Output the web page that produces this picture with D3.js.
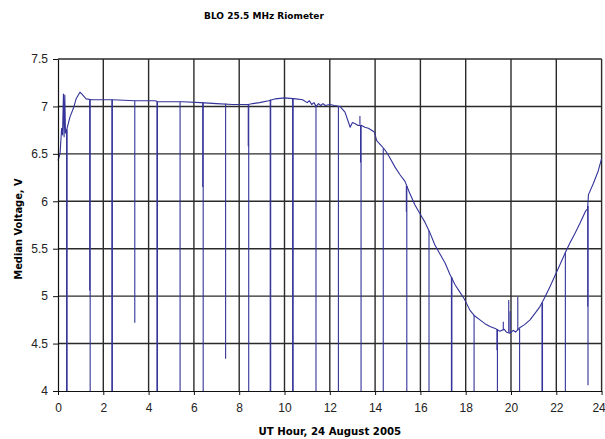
<!DOCTYPE html>
<html>
<head>
<meta charset="utf-8">
<script src="https://cdn.jsdelivr.net/npm/d3@7"></script>
<style>
  body { margin: 0; background: #fff; }
  .axis text { font-family: 'Liberation Sans', Arial, sans-serif; font-size: 12px; fill: #222; }
  .axis path, .axis line { stroke: #111; }
  .title { font-family: 'DejaVu Sans', sans-serif; font-weight: bold; fill: #000; }
</style>
</head>
<body>
<div class="chart"></div>
<script>
// base riometer curve (UT hour, median voltage)
const hours = [0, 0.09, 0.16, 0.2, 0.24, 0.27, 0.3, 0.33, 0.38, 0.53, 0.68, 0.8, 0.97, 1.06, 1.24, 1.5,
  2.4, 3.4, 4.3, 4.4, 5.5, 6.3, 7.0, 7.7, 8.4, 8.6, 8.9, 9.3, 9.6, 10.0, 10.5, 10.8,
  11.0, 11.1, 11.2, 11.3, 11.4, 11.5, 11.6, 11.7, 11.8, 12.0, 12.2, 12.45, 12.67, 12.9,
  13.0, 13.1, 13.25, 13.4, 13.55, 13.7, 13.97, 14.07, 14.3, 14.44, 14.6, 14.88, 15.1, 15.32,
  15.5, 15.76, 16.0, 16.2, 16.4, 16.64, 16.85, 17.09, 17.3, 17.53, 17.75, 17.94, 18.19, 18.4,
  18.63, 18.85, 19.07, 19.3, 19.51, 19.7, 19.8, 19.96, 20.1, 20.2, 20.4, 20.6, 20.84, 21.0,
  21.28, 21.5, 21.72, 21.95, 22.16, 22.4, 22.6, 22.8, 23.05, 23.3, 23.38, 23.42, 23.64, 23.85, 24]
const volts = [6.43, 6.50, 6.77, 6.70, 7.13, 6.68, 7.12, 6.72, 6.75, 6.89, 6.98, 7.08, 7.15, 7.13, 7.08, 7.07,
  7.07, 7.06, 7.06, 7.05, 7.05, 7.04, 7.03, 7.02, 7.02, 7.03, 7.04, 7.06, 7.08, 7.09, 7.08, 7.07,
  7.04, 7.06, 7.02, 7.04, 7.00, 7.03, 7.01, 7.03, 7.01, 7.02, 7.01, 7.00, 6.94, 6.78,
  6.83, 6.82, 6.80, 6.80, 6.78, 6.77, 6.73, 6.64, 6.58, 6.54, 6.48, 6.36, 6.28, 6.21,
  6.10, 5.96, 5.86, 5.78, 5.68, 5.54, 5.45, 5.35, 5.23, 5.12, 5.04, 4.97, 4.85, 4.79,
  4.75, 4.71, 4.68, 4.66, 4.63, 4.65, 4.62, 4.61, 4.64, 4.62, 4.67, 4.70, 4.75, 4.80,
  4.89, 4.99, 5.10, 5.22, 5.33, 5.46, 5.56, 5.65, 5.77, 5.90, 5.92, 6.07, 6.19, 6.32, 6.45]

// short spikes: hour, level at the curve, level reached
const spikeHour = [0.38, 0.40, 1.40, 1.42, 2.38, 2.40, 3.39, 4.37, 4.39, 5.39, 6.39, 6.41, 7.40, 8.40, 8.42,
  9.37, 9.39, 10.36, 10.38, 11.39, 12.38, 13.33, 13.36, 13.38, 14.36, 15.38, 15.40, 16.38, 17.37, 17.39,
  18.37, 19.38, 19.40, 19.66, 19.9, 19.96, 20.3, 20.38, 21.37, 21.39, 22.40, 23.39, 23.40]
const spikeFrom = [6.75, 6.76, 7.07, 7.07, 7.07, 7.07, 7.06, 7.05, 7.05, 7.05, 7.04, 7.04, 7.03, 7.02, 7.02,
  7.07, 7.07, 7.08, 7.08, 7.01, 7.00, 6.81, 6.80, 6.80, 6.56, 6.16, 6.16, 5.69, 5.20, 5.20,
  4.80, 4.65, 4.65, 4.64, 4.62, 4.61, 4.64, 4.66, 4.93, 4.93, 5.46, 5.95, 5.95]
const spikeTo = [4.0, 4.0, 5.06, 4.0, 4.0, 4.0, 4.72, 4.0, 4.0, 4.0, 6.15, 4.0, 4.34, 6.58, 4.0,
  4.0, 4.0, 4.0, 4.0, 4.0, 4.0, 6.90, 6.41, 4.0, 4.0, 5.89, 4.0, 4.0, 4.0, 4.0,
  4.0, 4.43, 4.0, 4.73, 4.96, 4.84, 4.99, 4.0, 4.0, 4.0, 4.0, 4.89, 4.06]

const xTicks = d3.range(0, 25, 2)
const yTicks = d3.range(4, 7.51, 0.5)

const width = 605
const height = 439
const margin = {top: 59, right: 3.4, bottom: 48, left: 58}
const plotW = width - margin.left - margin.right
const plotH = height - margin.top - margin.bottom

const svg = d3.select('.chart').append('svg')
  .attr('width', width)
  .attr('height', height)

const scaleX = d3.scaleLinear().domain([0, 24]).range([margin.left, margin.left + plotW])
const scaleY = d3.scaleLinear().domain([4, 7.5]).range([margin.top + plotH, margin.top])

// gridlines
const grid = svg.append('g').attr('class', 'grid')
grid.selectAll('line.h').data(yTicks.filter(d => d > 4))
  .enter().append('line')
  .attr('class', 'h')
  .attr('x1', scaleX(0)).attr('x2', scaleX(24))
  .attr('y1', d => scaleY(d)).attr('y2', d => scaleY(d))
  .attr('stroke', '#2a2a2a')
  .attr('stroke-width', 1.4)
grid.selectAll('line.v').data(xTicks.filter(d => d > 0))
  .enter().append('line')
  .attr('class', 'v')
  .attr('x1', d => scaleX(d)).attr('x2', d => scaleX(d))
  .attr('y1', scaleY(4)).attr('y2', scaleY(7.5))
  .attr('stroke', '#2a2a2a')
  .attr('stroke-width', 1.4)

// data
const line = d3.line().x(d => scaleX(d[0])).y(d => scaleY(d[1]))
const plot = svg.append('g').attr('class', 'g-plot')

plot.selectAll('path.spike').data(spikeHour.map((h, i) => [[h, spikeFrom[i]], [h, spikeTo[i]]]))
  .enter().append('path')
  .attr('class', 'spike')
  .attr('d', line)
  .attr('fill', 'none')
  .attr('stroke', '#333399')
  .attr('stroke-width', 1.1)

plot.append('path')
  .datum(hours.map((h, i) => [h, volts[i]]))
  .attr('d', line)
  .attr('fill', 'none')
  .attr('stroke', '#333399')
  .attr('stroke-width', 1.1)
  .attr('stroke-linejoin', 'round')

// axes
const axisX = svg.append('g').attr('class', 'axis axis--x')
  .attr('transform', `translate(0,${scaleY(4)})`)
  .call(d3.axisBottom(scaleX).tickValues(xTicks).tickSizeInner(4).tickSizeOuter(0).tickPadding(8).tickFormat(d => d))
axisX.select('.domain').attr('stroke-width', 1.2)
// last label sits against the right edge
axisX.selectAll('.tick text').filter(d => d === 24).attr('dx', -3)

const axisY = svg.append('g').attr('class', 'axis axis--y')
  .attr('transform', `translate(${scaleX(0)},0)`)
  .call(d3.axisLeft(scaleY).tickValues(yTicks).tickSizeInner(5).tickSizeOuter(0).tickPadding(5).tickFormat(d => d))
axisY.select('.domain').attr('stroke-width', 1.2)

// titles
svg.append('text').attr('class', 'title')
  .attr('x', 264).attr('y', 18.5)
  .attr('text-anchor', 'middle')
  .style('font-size', '9px')
  .text('BLO 25.5 MHz Riometer')

svg.append('text').attr('class', 'title')
  .attr('x', margin.left + plotW / 2).attr('y', 435)
  .attr('text-anchor', 'middle')
  .style('font-size', '10.2px')
  .text('UT Hour, 24 August 2005')

svg.append('text').attr('class', 'title')
  .attr('transform', `translate(22,${margin.top + plotH / 2 + 4}) rotate(-90)`)
  .attr('text-anchor', 'middle')
  .style('font-size', '9.9px')
  .text('Median Voltage, V')
</script>
</body>
</html>
